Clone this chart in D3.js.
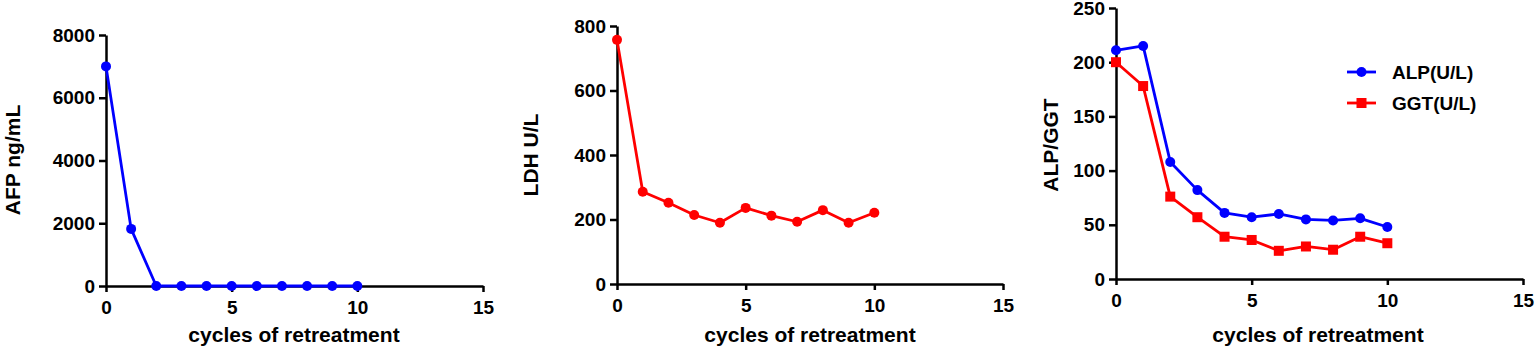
<!doctype html>
<html>
  <head>
    <title>retreatment markers</title>
    <style>
      * { margin: 0; padding: 0; }
      body { background: #fff; font-family: Arial, "Liberation Sans", Helvetica, sans-serif; }
      svg text { font-weight: bold; fill: #000; }
    </style>
    <script src="https://d3js.org/d3.v7.min.js"></script>
  </head>
  <body>
    <svg id="chart" width="1535" height="350"></svg>
    <script>
    // cycles of retreatment, 0..10
    const cycles = [0, 1, 2, 3, 4, 5, 6, 7, 8, 9, 10];
    const afp = [7000, 1820, 0, 0, 0, 0, 0, 0, 0, 0, 0];
    const ldh = [757, 286, 252, 214, 190, 236, 212, 193, 229, 190, 221];
    const alp = [211, 215, 108, 82, 61, 57, 60, 55, 54, 56, 48];
    const ggt = [200, 178, 76, 57, 39, 36, 26, 30, 27, 39, 33];
    const xTicks = [0, 5, 10, 15];
    const afpTicks = [0, 2000, 4000, 6000, 8000];
    const ldhTicks = [0, 200, 400, 600, 800];
    const alpTicks = [0, 50, 100, 150, 200, 250];

    const svg = d3.select("#chart");
    const blue = "#0000ff", red = "#ff0000";

    // one panel = axes + lines; x0/x1/y0/y1 are pixel edges of the plot
    function panel(p) {
      const x = d3.scaleLinear().domain([0, 15]).range([p.x0, p.x1]);
      const y = d3.scaleLinear().domain([0, p.ymax]).range([p.y0, p.y1]);

      const ax = svg.append("g").attr("transform", "translate(0," + p.y0 + ")")
        .call(d3.axisBottom(x).tickValues(xTicks).tickFormat(d3.format("d")).tickSize(6).tickSizeOuter(0).tickPadding(9));
      const ay = svg.append("g").attr("transform", "translate(" + p.x0 + ",0)")
        .call(d3.axisLeft(y).tickValues(p.yTicks).tickFormat(d3.format("d")).tickSize(7).tickSizeOuter(0).tickPadding(4));
      [ax, ay].forEach(function (a) {
        a.select(".domain").attr("stroke", "#000").attr("stroke-width", 2.5);
        a.selectAll(".tick line").attr("stroke", "#000").attr("stroke-width", 2.5);
        a.selectAll(".tick text").style("font-size", "19px").style("font-family", "Arial, 'Liberation Sans', sans-serif").attr("fill", "#000");
      });

      p.series.forEach(function (s) {
        const pts = cycles.map((c, i) => [c, s.values[i]]);
        svg.append("path")
          .datum(pts)
          .attr("fill", "none")
          .attr("stroke", s.color)
          .attr("stroke-width", 2.8)
          .attr("stroke-linejoin", "round")
          .attr("d", d3.line().x(d => x(d[0])).y(d => y(d[1])));
        const g = svg.append("g").attr("fill", s.color);
        if (s.shape === "square") {
          g.selectAll("rect").data(pts).join("rect")
            .attr("x", d => x(d[0]) - 5).attr("y", d => y(d[1]) - 5)
            .attr("width", 10).attr("height", 10);
        } else {
          g.selectAll("circle").data(pts).join("circle")
            .attr("cx", d => x(d[0])).attr("cy", d => y(d[1])).attr("r", 5);
        }
      });

      svg.append("text")
        .attr("x", p.xt).attr("y", 342)
        .attr("text-anchor", "middle")
        .style("font-size", "21px")
        .text("cycles of retreatment");
      svg.append("text")
        .attr("transform", "translate(" + p.yt[0] + "," + p.yt[1] + ") rotate(-90)")
        .attr("text-anchor", "middle")
        .style("font-size", "21px")
        .text(p.ylabel);
    }

    panel({ x0: 106, x1: 483, y0: 286, y1: 35, ymax: 8000, yTicks: afpTicks,
      xt: 294, yt: [20, 160], ylabel: "AFP ng/mL",
      series: [{ values: afp, color: blue, shape: "circle" }] });

    panel({ x0: 617, x1: 1003, y0: 284, y1: 26, ymax: 800, yTicks: ldhTicks,
      xt: 810, yt: [538, 155], ylabel: "LDH U/L",
      series: [{ values: ldh, color: red, shape: "circle" }] });

    panel({ x0: 1116, x1: 1523, y0: 279, y1: 8, ymax: 250, yTicks: alpTicks,
      xt: 1318, yt: [1058, 145], ylabel: "ALP/GGT",
      series: [{ values: alp, color: blue, shape: "circle" },
               { values: ggt, color: red, shape: "square" }] });

    // legend
    const legend = [{ name: "ALP(U/L)", color: blue, shape: "circle" },
                    { name: "GGT(U/L)", color: red, shape: "square" }];
    legend.forEach(function (l, i) {
      const ly = 72 + i * 31;
      svg.append("line").attr("x1", 1347).attr("x2", 1376).attr("y1", ly).attr("y2", ly)
        .attr("stroke", l.color).attr("stroke-width", 2.8);
      if (l.shape === "square") {
        svg.append("rect").attr("x", 1356.5).attr("y", ly - 5).attr("width", 10).attr("height", 10).attr("fill", l.color);
      } else {
        svg.append("circle").attr("cx", 1361.5).attr("cy", ly).attr("r", 5).attr("fill", l.color);
      }
      svg.append("text").attr("x", 1392).attr("y", ly + 7)
        .style("font-size", "19px").text(l.name);
    });
    </script>
  </body>
</html>
